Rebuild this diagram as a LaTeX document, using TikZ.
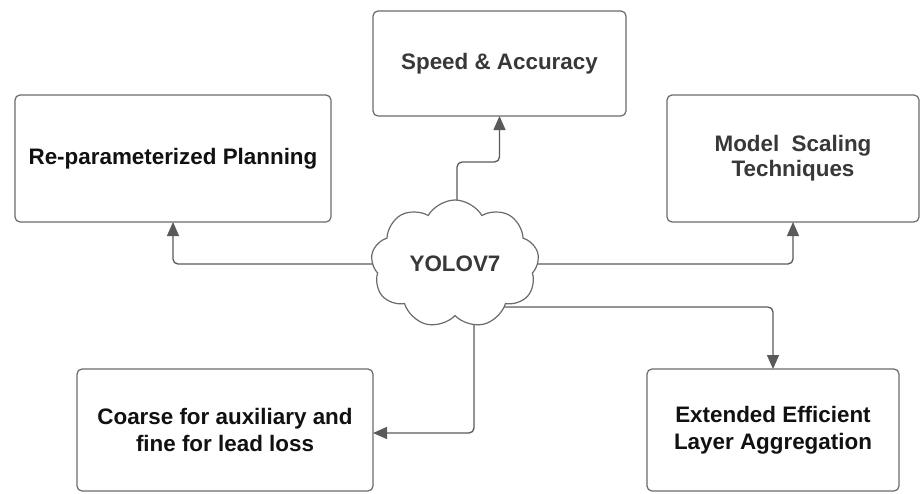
\documentclass[tikz,border=0pt]{standalone}
\usepackage{fontspec}
\setmainfont{Liberation Sans}
\usetikzlibrary{shapes.symbols,arrows.meta,backgrounds}

\definecolor{edgegray}{HTML}{5A5A5A}
\definecolor{boxgray}{HTML}{6A6A6A}
\definecolor{inkdark}{HTML}{111111}
\definecolor{inkgray}{HTML}{383838}

\tikzset{
  topicbox/.style={draw=boxgray, line width=1.2pt, rounded corners=5pt, fill=white,
    rectangle, inner sep=0pt, outer sep=0pt, align=center,
    font=\fontsize{22.4}{26.5}\selectfont\bfseries, text=inkdark},
  hub/.style={cloud, cloud puffs=9, cloud puff arc=120, cloud ignores aspect,
    draw=boxgray, line width=1.2pt, fill=white, inner sep=0pt,
    font=\fontsize{22.4}{26.5}\selectfont\bfseries, text=inkgray},
  link/.style={draw=edgegray, line width=1.3pt, rounded corners=5pt,
    -{Triangle[length=14pt,width=12pt]}},
}

\begin{document}
\begin{tikzpicture}[x=1pt,y=-1pt]
  \useasboundingbox (0,0) rectangle (920,493);

  % outer topics
  \node[topicbox, minimum width=316pt, minimum height=127pt] (rp) at (173,158.5)
    {\raisebox{3pt}{Re-parameterized Planning}};
  \node[topicbox, minimum width=253pt, minimum height=105pt, text=inkgray] (sa) at (499.5,63.5)
    {\raisebox{3pt}{Speed \& Accuracy}};
  \node[topicbox, minimum width=252pt, minimum height=127pt, text=inkgray] (ms) at (793,158.5)
    {\raisebox{3pt}{\shortstack{Model\ \ Scaling\\[1pt]Techniques}}};
  \node[topicbox, minimum width=296pt, minimum height=122pt] (cf) at (225,430)
    {Coarse for auxiliary and\\fine for lead loss};
  \node[topicbox, minimum width=252pt, minimum height=122pt] (eel) at (773,430)
    {Extended Efficient\\Layer Aggregation};

  % central idea
  \node[hub, minimum width=168pt, minimum height=128pt] (yolo) at (455,264) {YOLOV7};

  % bend points of the connectors
  \coordinate (topbend) at (457,162);
  \coordinate (botbend) at (474,433);
  \coordinate (lrbend)  at (773,307);

  \begin{scope}[on background layer]
    \draw[link] (yolo.center) -| (rp.south);
    \draw[link] (yolo.center) -| (ms.south);
    \draw[link] (topbend |- yolo.center) -- (topbend) -| (sa.south);
    \draw[link] (botbend |- yolo.center) -- (botbend) -- (botbend -| cf.east);
    \draw[link] (yolo.center |- lrbend) -| (eel.north);
  \end{scope}
\end{tikzpicture}
\end{document}
